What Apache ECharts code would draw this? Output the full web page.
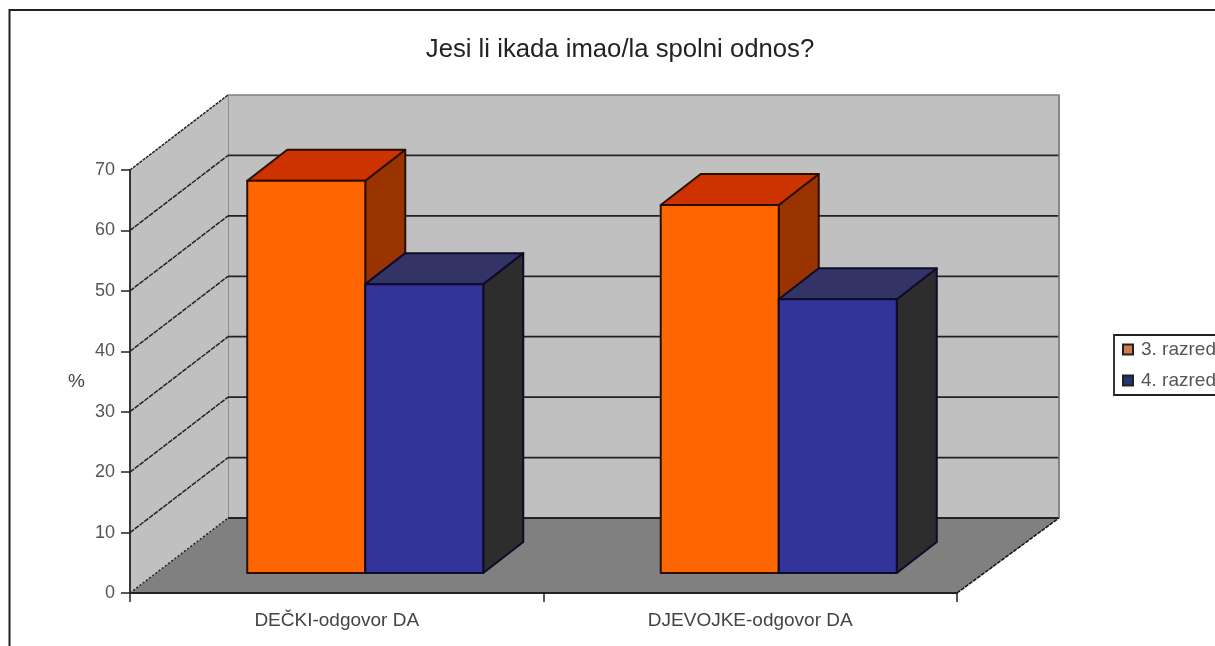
<!DOCTYPE html>
<html><head><meta charset="utf-8">
<style>html,body{margin:0;padding:0;background:#fff}#c{width:1215px;height:646px}</style>
<script src="https://cdn.jsdelivr.net/npm/echarts@6/dist/echarts.min.js"></script>
</head><body><div id="c"></div>
<script>
const categories = ['DEČKI-odgovor DA', 'DJEVOJKE-odgovor DA'];
const razred3 = [64.9, 60.9];
const razred4 = [47.8, 45.3];
const wallTicks = [0, 10, 20, 30, 40, 50, 60, 70];
const seriesNames = ['3. razred', '4. razred'];

const chart = echarts.init(document.getElementById('c'), null, {renderer: 'canvas'});
const DX_L = 98, DX_R = 102, DY = -75;   // floor depth on screen
const BAR_OX = 28.5, BAR_OY = -20;       // bar front offset from the front plane
const BAR_DX = 40, BAR_DY = -31;         // bar depth
const BAR_SHARE = 0.2854;                // bar width as share of category band

function poly(points, fill, stroke, lw) {
  return {type: 'polygon', shape: {points},
    style: {fill: fill, stroke: stroke || null, lineWidth: lw || 0, lineJoin: 'round'}};
}
function line(points, stroke, lw, dash) {
  return {type: 'polyline', shape: {points},
    style: {fill: null, stroke: stroke, lineWidth: lw, lineDash: dash || null}};
}
function renderWalls(params, api) {
  if (params.dataIndex !== 0) return {type: 'group', children: []};
  const band = api.size([1, 0])[0];
  const left = api.coord([0, 0])[0] - band / 2;
  const right = api.coord([categories.length - 1, 0])[0] + band / 2;
  const y0 = api.coord([0, wallTicks[0]])[1];
  const yT = api.coord([0, wallTicks[wallTicks.length - 1]])[1];
  const bl = left + DX_L, br = right + DX_R;
  const kids = [
    poly([[bl, yT + DY], [br, yT + DY], [br, y0 + DY], [bl, y0 + DY]], '#c0c0c0', '#808080', 1.5),
    poly([[left, yT], [bl, yT + DY], [bl, y0 + DY], [left, y0]], '#c0c0c0'),
    poly([[left, y0], [bl, y0 + DY], [br, y0 + DY], [right, y0]], '#808080')
  ];
  wallTicks.forEach(function (v, i) {
    const y = api.coord([0, v])[1];
    if (i === wallTicks.length - 1) {
      kids.push(line([[left, y], [bl, y + DY]], '#222', 1.5, [3, 1]));
    } else if (i === 0) {
      kids.push(line([[left, y], [bl, y + DY]], '#222', 1.5, [2, 2]));
      kids.push(line([[bl, y + DY], [br, y + DY]], '#222', 1.8));
    } else {
      kids.push(line([[left, y], [bl, y + DY]], '#222', 1.5, [5, 1]));
      kids.push(line([[bl, y + DY], [br, y + DY]], '#222', 1.8));
    }
  });
  kids.push(line([[right, y0], [br, y0 + DY]], '#111', 1.5, [4, 1]));
  kids.push(line([[br, yT + DY], [br, y0 + DY]], '#808080', 1.5));
  return {type: 'group', children: kids};
}
function makeBarRenderer(side, front, top, flank, edge) {
  return function (params, api) {
    const cat = api.value(0), val = api.value(1);
    const band = api.size([1, 0])[0];
    const base = api.coord([cat, 0]);
    const head = api.coord([cat, val]);
    const w = band * BAR_SHARE;
    const x1 = base[0] + BAR_OX + (side < 0 ? -w : 0);
    const x2 = x1 + w;
    const yB = base[1] + BAR_OY, yH = head[1] + BAR_OY;
    return {type: 'group', children: [
      poly([[x2, yH], [x2 + BAR_DX, yH + BAR_DY], [x2 + BAR_DX, yB + BAR_DY], [x2, yB]], flank, edge, 2),
      poly([[x1, yH], [x1 + BAR_DX, yH + BAR_DY], [x2 + BAR_DX, yH + BAR_DY], [x2, yH]], top, edge, 2),
      poly([[x1, yH], [x2, yH], [x2, yB], [x1, yB]], front, edge, 2)
    ]};
  };
}
const font = '"Liberation Sans", Arial, sans-serif';
const option = {
  animation: false,
  backgroundColor: '#fff',
  textStyle: {fontFamily: font},
  title: {
    text: 'Jesi li ikada imao/la spolni odnos?',
    left: 615, top: 32, textAlign: 'center',
    textStyle: {fontFamily: font, fontSize: 25.7, fontWeight: 'normal', color: '#222'}
  },
  grid: {left: 130, width: 827, top: 170, height: 423, containLabel: false},
  xAxis: {
    type: 'category', data: categories, z: 6,
    axisLine: {onZero: false, lineStyle: {color: '#222', width: 1.8}},
    axisTick: {show: true, alignWithLabel: false, length: 9, lineStyle: {color: '#222', width: 1.5}},
    axisLabel: {color: '#444', fontSize: 19, margin: 18, fontFamily: font},
    splitLine: {show: false}
  },
  yAxis: {
    type: 'value', min: 0, max: 70, interval: 10, z: 6,
    name: '%', nameLocation: 'middle', nameRotate: 0, nameGap: 45,
    nameTextStyle: {color: '#444', fontSize: 19, fontFamily: font},
    axisLine: {show: true, lineStyle: {color: '#222', width: 1.8}},
    axisTick: {show: true, length: 9, lineStyle: {color: '#222', width: 1.5}},
    axisLabel: {color: '#555', fontSize: 18, margin: 15, fontFamily: font},
    splitLine: {show: false}
  },
  legend: {
    show: true, orient: 'vertical', left: 1114, top: 335,
    data: seriesNames,
    icon: 'rect', itemWidth: 10, itemHeight: 10, itemGap: 12,
    padding: [5, 20, 5, 8],
    borderColor: '#222', borderWidth: 1.8, backgroundColor: '#fff',
    textStyle: {color: '#555', fontSize: 19, fontFamily: font, padding: [0, 0, 0, 3]}
  },
  graphic: [
    {type: 'polyline', silent: true, z: 20, shape: {points: [[9.5, 646], [9.5, 10], [1215, 10]]},
     style: {fill: null, stroke: '#222', lineWidth: 2}}
  ],
  series: [
    {type: 'custom', name: 'walls', z: 1, silent: true, renderItem: renderWalls,
     encode: {x: 0, y: 1}, data: [[0, 0]]},
    {type: 'custom', name: seriesNames[0], z: 2, renderItem: makeBarRenderer(-1, '#ff6600', '#cc3300', '#993300', '#2a0f00'),
     itemStyle: {color: '#d07a50', borderColor: '#222', borderWidth: 1.5},
     encode: {x: 0, y: 1}, data: razred3.map((v, i) => [i, v])},
    {type: 'custom', name: seriesNames[1], z: 3, renderItem: makeBarRenderer(1, '#333399', '#333366', '#2d2d2d', '#0c0c2a'),
     itemStyle: {color: '#24346f', borderColor: '#222', borderWidth: 1.5},
     encode: {x: 0, y: 1}, data: razred4.map((v, i) => [i, v])}
  ]
};
chart.setOption(option);
</script></body></html>
